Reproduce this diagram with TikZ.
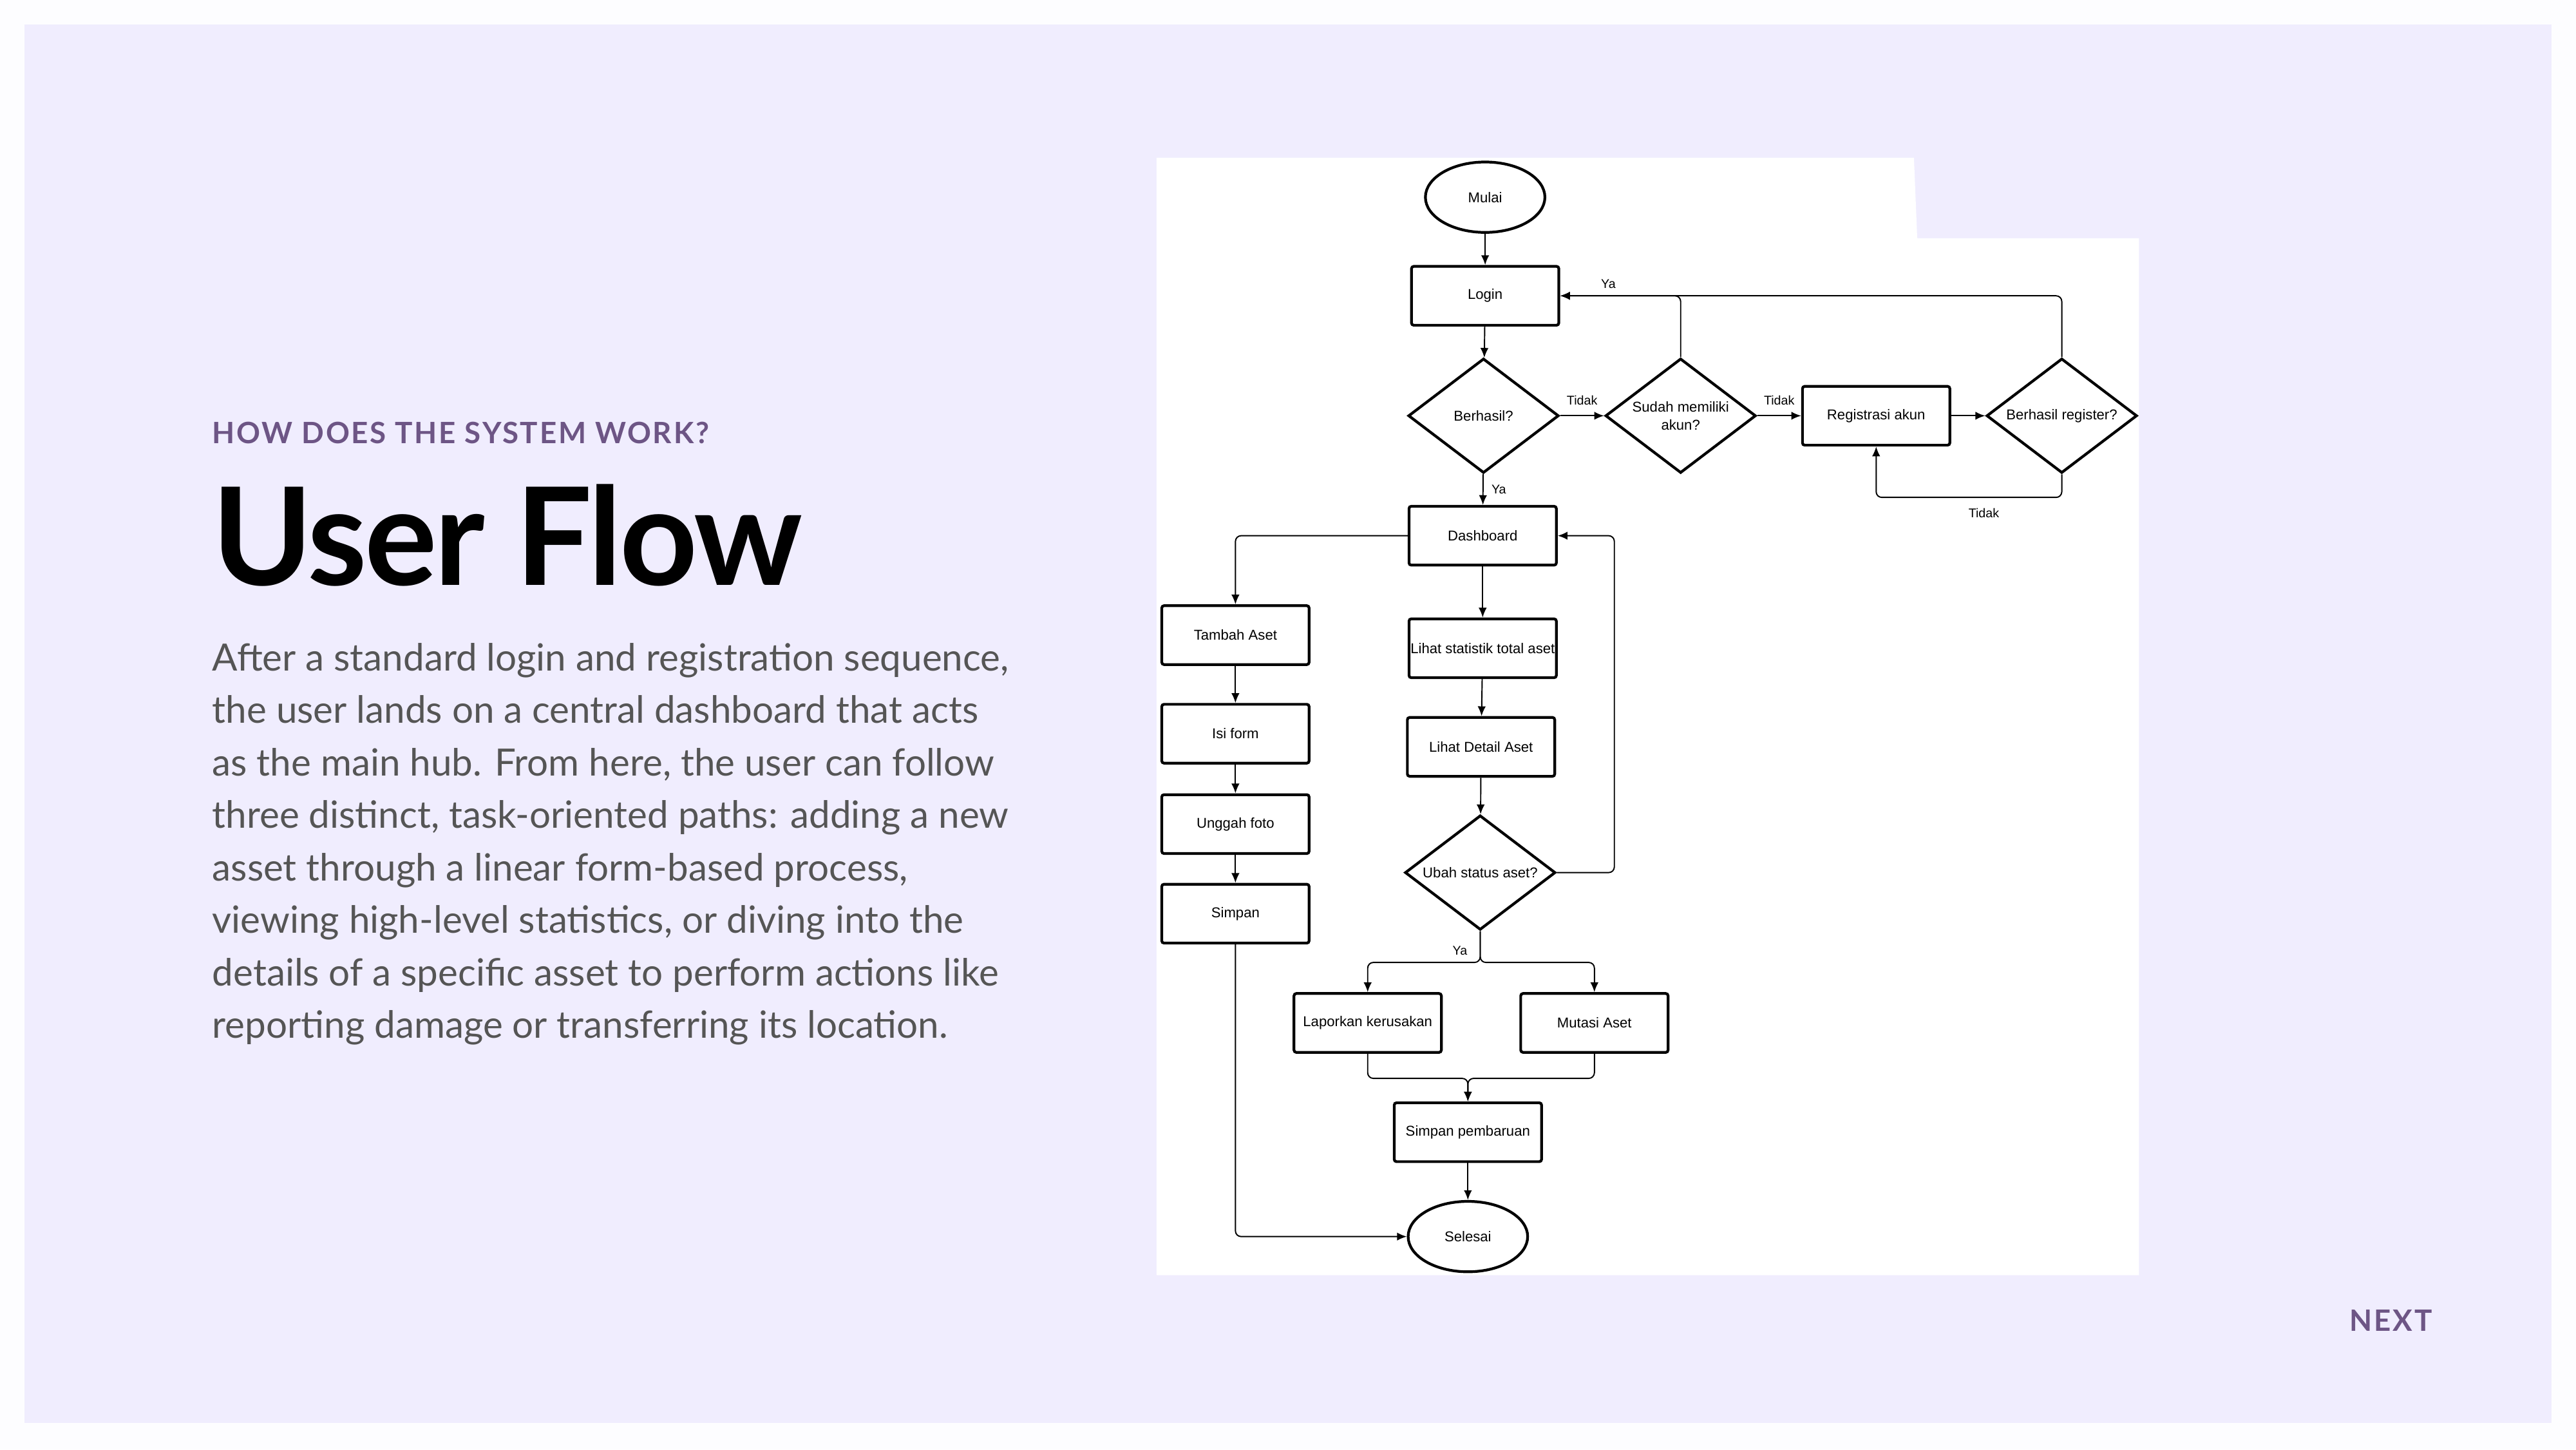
\documentclass[tikz,border=0pt]{standalone}
\usepackage{fontspec}
\setmainfont{Lato}
\newfontfamily\flowfont{Liberation Sans}
\newfontfamily\kickerfont[LetterSpace=6]{Lato}
\newfontfamily\titlefont[LetterSpace=-2]{Lato}
\usetikzlibrary{shapes.geometric,arrows.meta}
\definecolor{pagebg}{HTML}{FDFDFF}
\definecolor{slidebg}{HTML}{F0EDFE}
\definecolor{kicker}{HTML}{6D5585}
\definecolor{bodygray}{HTML}{555555}
\tikzset{
	flowtext/.style={font=\flowfont\fontsize{6.3}{8}\selectfont},
	procbox/.style={flowtext, draw, line width=1.2pt, rounded corners=1pt, fill=white, minimum width=65.1pt, minimum height=26pt, inner xsep=0pt},
	decision/.style={flowtext, draw, diamond, line width=1.2pt, fill=white, aspect=1.31, minimum width=66.5pt, minimum height=50.6pt, inner sep=0pt, align=center},
	terminal/.style={flowtext, draw, ellipse, line width=1.2pt, fill=white, minimum width=52.8pt, minimum height=31.1pt},
	flow/.style={-{Latex[length=4.3pt,width=3.6pt]}, line width=0.55pt, rounded corners=2.5pt},
	lbl/.style={font=\flowfont\fontsize{5.6}{6.5}\selectfont, inner sep=1.5pt}
}
\begin{document}
\begin{tikzpicture}[x=0.2551mm, y=-0.2551mm]
	\useasboundingbox (0,0) rectangle (1568,882);
	\fill[pagebg] (0,0) rectangle (1568,882);
	\fill[slidebg] (15,15) rectangle (1553,866);

	\node[anchor=base west, inner sep=0, text=kicker] (kick) at (129,270) {\kickerfont\fontsize{13}{13}\selectfont\bfseries HOW DOES THE SYSTEM WORK?};
	\node[anchor=base west, inner sep=0] (title) at (129,356) {\titlefont\fontsize{60}{60}\selectfont\bfseries User Flow};
	\node[anchor=north west, inner sep=0, align=left, text=bodygray, font=\fontsize{16.6}{23.2}\selectfont] (body) at (129,391) {After a standard login and registration sequence,\\the user lands on a central dashboard that acts\\as the main hub. From here, the user can follow\\three distinct, task-oriented paths: adding a new\\asset through a linear form-based process,\\viewing high-level statistics, or diving into the\\details of a specific asset to perform actions like\\reporting damage or transferring its location.};
	\node[anchor=base west, inner sep=0, text=kicker] (next) at (1430,810) {\kickerfont\fontsize{13}{13}\selectfont\bfseries NEXT};

	\fill[white] (704,96) -- (1165,96) -- (1167,145) -- (1302,145) -- (1302,776) -- (704,776) -- cycle;

	\node[terminal] (mulai) at (904,120) {Mulai};
	\node[procbox] (login) at (904,180) {Login};
	\node[decision] (berhasil) at (903,253) {Berhasil?};
	\node[decision] (sudah) at (1023,253) {Sudah memiliki\\akun?};
	\node[procbox] (registrasi) at (1142,253) {Registrasi akun};
	\node[decision] (berreg) at (1255,253) {Berhasil register?};
	\node[procbox] (dashboard) at (902.5,326) {Dashboard};
	\node[procbox] (tambah) at (752,386.5) {Tambah Aset};
	\node[procbox] (statistik) at (902.5,394.5) {Lihat statistik total aset};
	\node[procbox] (isiform) at (752,446.5) {Isi form};
	\node[procbox] (detail) at (901.5,454.5) {Lihat Detail Aset};
	\node[procbox] (unggah) at (752,501.5) {Unggah foto};
	\node[decision] (ubah) at (901,531) {Ubah status aset?};
	\node[procbox] (simpan) at (752,556) {Simpan};
	\node[procbox] (laporkan) at (832.5,622.5) {Laporkan kerusakan};
	\node[procbox] (mutasi) at (970.5,622.5) {Mutasi Aset};
	\node[procbox] (pembaruan) at (893.5,689) {Simpan pembaruan};
	\node[terminal] (selesai) at (893.5,752.5) {Selesai};

	\draw[flow] (mulai) -- (login);
	\draw[flow] (login) -- (berhasil);
	\draw[flow] (berhasil) -- node[lbl, above=3pt] {Tidak} (sudah);
	\draw[flow] (sudah) -- node[lbl, above=3pt] {Tidak} (registrasi);
	\draw[flow] (registrasi) -- (berreg);
	\draw[flow] (berreg.north) |- (login.east);
	\draw[flow] (sudah.north) |- node[lbl, above=1.5pt, pos=0.8] {Ya} (login.east);
	\draw[flow] (berreg.south) -- ++(0,14) -| node[lbl, below=3pt, pos=0.21] {Tidak} (registrasi.south);
	\draw[flow] (berhasil) -- node[lbl, right=2pt] {Ya} (dashboard);
	\draw[flow] (dashboard.west) -| (tambah.north);
	\draw[flow] (dashboard) -- (statistik);
	\draw[flow] (statistik) -- (detail);
	\draw[flow] (detail) -- (ubah);
	\draw[flow] (ubah.east) -- ++(35,0) |- (dashboard.east);
	\draw[flow] (ubah.south) -- node[lbl, left=4pt, pos=0.63] {Ya} ++(0,19) -| (laporkan.north);
	\draw[flow] (ubah.south) -- ++(0,19) -| (mutasi.north);
	\draw[flow] (tambah) -- (isiform);
	\draw[flow] (isiform) -- (unggah);
	\draw[flow] (unggah) -- (simpan);
	\draw[flow] (simpan.south) |- (selesai.west);
	\draw[flow] (laporkan.south) -- ++(0,15) -| (pembaruan.north);
	\draw[flow] (mutasi.south) -- ++(0,15) -| (pembaruan.north);
	\draw[flow] (pembaruan) -- (selesai);
\end{tikzpicture}
\end{document}
